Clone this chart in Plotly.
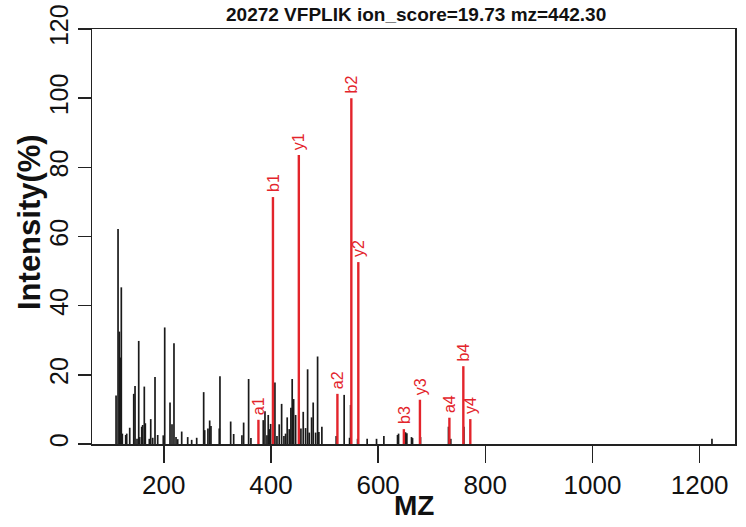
import plotly.graph_objects as go

# ---- data ----
title_text = "20272 VFPLIK ion_score=19.73 mz=442.30"

black_mz = [110.9, 114.6, 117.0, 119.6, 120.7, 122.6, 128.9, 130.8, 136.4, 143.9,
            146.3, 150.0, 153.2, 155.0, 158.8, 160.6, 163.6, 165.5, 173.0, 175.6,
            179.3, 183.6, 188.6, 199.0, 201.7, 211.6, 215.3, 219.0, 222.8, 225.9,
            233.4, 244.6, 252.0, 261.4, 274.4, 276.3, 282.4, 285.6, 288.0, 303.5,
            304.8, 324.8, 330.4, 345.8, 349.0, 358.3, 362.6, 385.6, 388.8, 392.5,
            394.9, 396.8, 399.4, 407.4, 411.2, 415.4, 419.9, 424.2, 427.3, 430.3,
            434.1, 437.2, 439.6, 442.3, 446.0, 452.7, 455.9, 460.2, 464.6, 468.4,
            471.4, 475.8, 478.8, 483.3, 487.0, 489.4, 495.0, 521.7, 536.6, 546.7,
            548.6, 561.6, 579.5, 597.0, 610.7, 636.2, 638.1, 651.1, 653.6, 662.3,
            664.2, 679.1, 731.3, 735.6, 760.0, 1223.0]
black_int = [14.0, 62.2, 32.5, 25.0, 45.3, 3.0, 2.6, 3.0, 4.7, 14.5,
             16.8, 1.5, 29.8, 2.0, 5.0, 5.5, 16.6, 6.0, 1.5, 7.2,
             1.8, 19.4, 2.6, 2.5, 33.7, 12.0, 5.7, 29.1, 2.0, 1.4,
             3.6, 2.0, 1.2, 1.8, 15.0, 4.0, 4.5, 6.8, 5.2, 4.5,
             19.6, 6.5, 2.9, 2.5, 6.2, 18.8, 1.7, 6.9, 9.5, 2.5,
             8.4, 4.3, 5.8, 17.8, 2.3, 5.7, 11.6, 2.3, 3.0, 7.7,
             4.3, 10.5, 18.8, 13.0, 8.4, 2.7, 4.5, 9.3, 4.6, 21.6,
             3.3, 7.7, 12.0, 3.3, 25.3, 3.5, 5.0, 2.3, 14.2, 1.8,
             11.3, 1.5, 1.5, 1.5, 2.3, 2.6, 3.0, 3.4, 3.1, 2.0,
             1.7, 2.0, 5.0, 1.5, 5.0, 1.5]

ion_labels = ["a1", "b1", "y1", "a2", "b2", "y2", "b3", "y3", "a4", "b4", "y4"]
ion_mz = [376.6, 403.7, 452.0, 524.0, 550.0, 563.0, 648.0, 678.0, 733.0, 759.0, 772.0]
ion_int = [7.0, 71.4, 83.6, 14.5, 100.0, 52.6, 4.3, 12.8, 7.6, 22.5, 7.2]

x_ticks = [200, 400, 600, 800, 1000, 1200]
y_ticks = [0, 20, 40, 60, 80, 100, 120]

# ---- build stick traces ----
def sticks(xs, ys):
    px, py = [], []
    for x, y in zip(xs, ys):
        px += [x, x, None]
        py += [0, y, None]
    return px, py

bx, by = sticks(black_mz, black_int)
rx, ry = sticks(ion_mz, ion_int)

RED = "#E3242B"
AXC = "#222222"
FONT = "Liberation Sans, Arial, sans-serif"

fig = go.Figure()
fig.add_trace(go.Scatter(x=bx, y=by, mode="lines",
                         line=dict(color="#1a1a1a", width=1.7),
                         hoverinfo="skip", showlegend=False))
fig.add_trace(go.Scatter(x=rx, y=ry, mode="lines",
                         line=dict(color=RED, width=2.4),
                         hoverinfo="skip", showlegend=False))

annotations = []
for lab, x, y in zip(ion_labels, ion_mz, ion_int):
    annotations.append(dict(x=x, y=y, xref="x", yref="y", text=lab,
                            showarrow=False, textangle=-90,
                            xanchor="center", yanchor="bottom", yshift=3,
                            font=dict(family=FONT, size=16, color=RED)))

annotations.append(dict(x=0.5, y=-0.147, xref="paper", yref="paper",
                        text="<b>MZ</b>", showarrow=False,
                        xanchor="center", yanchor="middle",
                        font=dict(family=FONT, size=28, color="#111111")))
annotations.append(dict(x=-0.0964, y=0.535, xref="paper", yref="paper",
                        text="<b>Intensity(%)</b>", showarrow=False, textangle=-90,
                        xanchor="center", yanchor="middle",
                        font=dict(family=FONT, size=31, color="#111111")))
annotations.append(dict(x=0.504, y=1.034, xref="paper", yref="paper",
                        text="<b>" + title_text + "</b>", showarrow=False,
                        xanchor="center", yanchor="middle",
                        font=dict(family=FONT, size=19, color="#111111")))

fig.update_layout(
    width=746, height=527,
    margin=dict(l=92, r=11, t=29, b=83, autoexpand=False),
    paper_bgcolor="white", plot_bgcolor="white",
    annotations=annotations,
    showlegend=False,
    xaxis=dict(range=[66, 1266], tickvals=x_ticks, ticks="outside", ticklen=17,
               tickwidth=1.5, tickcolor=AXC, showline=True, linecolor=AXC,
               linewidth=1.5, mirror=True, showgrid=False, zeroline=False,
               automargin=False, ticklabeloverflow="allow",
               tickfont=dict(family=FONT, size=26, color="#111111")),
    yaxis=dict(range=[0, 120], tickvals=y_ticks, ticks="outside", ticklen=13,
               tickwidth=1.5, tickcolor=AXC, showline=True, linecolor=AXC,
               linewidth=1.5, mirror=True, showgrid=False, zeroline=False,
               tickangle=-90, automargin=False, ticklabeloverflow="allow",
               tickfont=dict(family=FONT, size=25, color="#111111")),
)

fig.write_html("out.html",
               config={"displayModeBar": False, "staticPlot": True},
               post_script="document.body.style.margin='0';document.body.style.overflow='hidden';")
